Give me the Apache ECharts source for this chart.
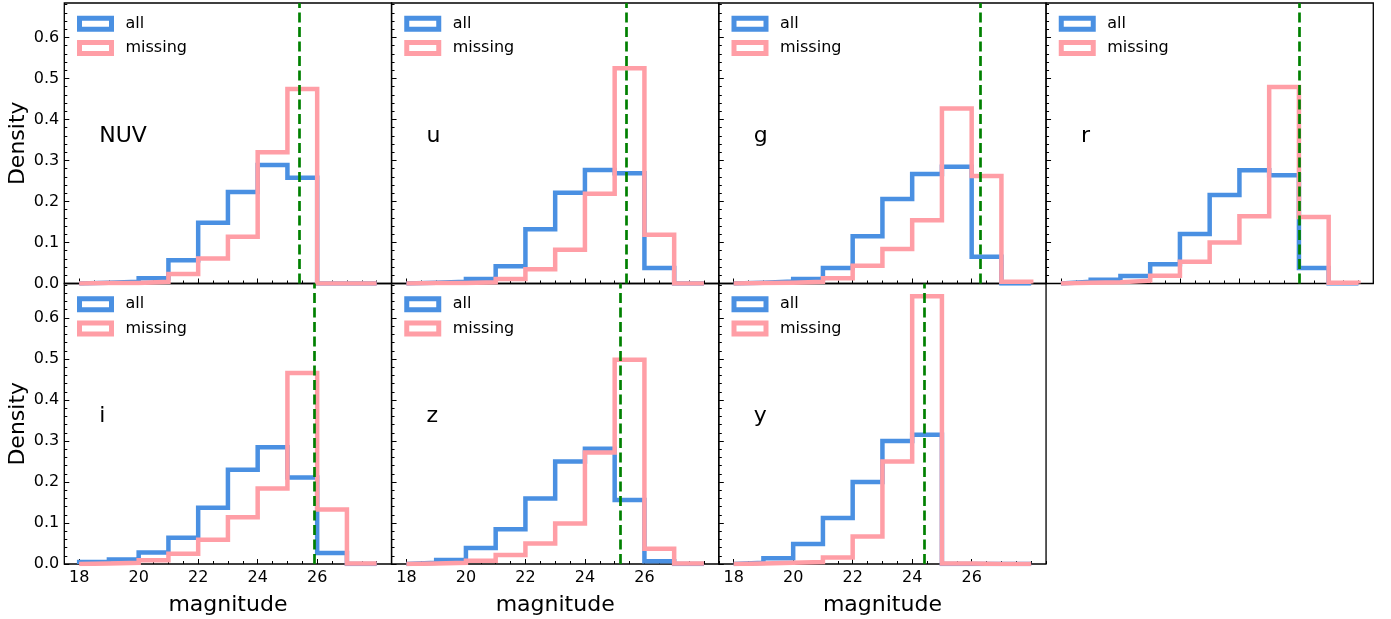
<!DOCTYPE html>
<html lang="en">
<head>
  <meta charset="UTF-8">
  <title>magnitude histograms</title>
  <script src="https://cdn.jsdelivr.net/npm/echarts@6/dist/echarts.min.js"></script>
  <style>
    body { margin: 0; background: #fff; }
  </style>
</head>
<body>
  <div id="main" style="width: 1391px; height: 619px;"></div>
  <script>
    // bands and magnitude bins (width 1 mag)
    var bands = ['NUV', 'u', 'g', 'r', 'i', 'z', 'y'];
    var binEdges = [18, 19, 20, 21, 22, 23, 24, 25, 26, 27, 28];

    // density per bin, "all" sources and "missing" sources
    var allNUV = [0.002, 0.004, 0.013, 0.057, 0.148, 0.223, 0.289, 0.258, 0, 0];
    var missNUV = [0.001, 0.001, 0.004, 0.023, 0.061, 0.114, 0.320, 0.474, 0, 0];
    var allU = [0.002, 0.004, 0.011, 0.042, 0.132, 0.221, 0.277, 0.269, 0.038, 0];
    var missU = [0.001, 0.001, 0.003, 0.011, 0.035, 0.082, 0.219, 0.525, 0.119, 0];
    var allG = [0.002, 0.005, 0.011, 0.038, 0.115, 0.206, 0.267, 0.285, 0.065, 0];
    var missG = [0.001, 0.002, 0.004, 0.013, 0.043, 0.084, 0.154, 0.427, 0.262, 0.004];
    var allR = [0.004, 0.009, 0.018, 0.047, 0.121, 0.216, 0.276, 0.264, 0.038, 0];
    var missR = [0.002, 0.003, 0.007, 0.019, 0.053, 0.100, 0.164, 0.479, 0.162, 0.002];
    var allI = [0.005, 0.011, 0.028, 0.064, 0.137, 0.230, 0.285, 0.211, 0.027, 0];
    var missI = [0.001, 0.003, 0.009, 0.025, 0.059, 0.114, 0.184, 0.466, 0.133, 0.001];
    var allZ = [0.003, 0.010, 0.039, 0.085, 0.160, 0.250, 0.281, 0.156, 0.007, 0];
    var missZ = [0.001, 0.003, 0.008, 0.022, 0.050, 0.099, 0.272, 0.498, 0.037, 0.001];
    var allY = [0.003, 0.014, 0.049, 0.112, 0.200, 0.300, 0.315, 0, 0, 0];
    var missY = [0.001, 0.003, 0.005, 0.016, 0.067, 0.250, 0.653, 0.001, 0, 0];

    // green dashed line: magnitude limit per band
    var limits = [25.4, 25.4, 26.3, 26.0, 25.9, 25.2, 24.4];

    var allData = [allNUV, allU, allG, allR, allI, allZ, allY];
    var missData = [missNUV, missU, missG, missR, missI, missZ, missY];

    // ticks
    var xMajor = [18, 20, 22, 24, 26];
    var yMajor = [0, 0.1, 0.2, 0.3, 0.4, 0.5, 0.6];
    var xMinor = [];
    for (var v = 17.5; v <= 28.5; v += 0.5) xMinor.push(v);
    var yMinor = [];
    for (var j = 0; j <= 34; j++) yMinor.push(+(j * 0.02).toFixed(2));

    var blue = '#4a90e2';
    var pink = '#ff9ea6';
    var font = 'DejaVu Sans';

    // histtype='step' outline
    function stepPoints(h) {
      var pts = [[binEdges[0], 0]];
      h.forEach(function (val, k) {
        pts.push([binEdges[k], val], [binEdges[k + 1], val]);
      });
      pts.push([binEdges[binEdges.length - 1], 0]);
      return pts;
    }

    var panelW = 327.25, panelH = 280.5;
    var left0 = 64.3, top0 = 3;

    var grid = [], xAxis = [], yAxis = [], series = [], legend = [], graphic = [];

    bands.forEach(function (band, k) {
      var row = Math.floor(k / 4), col = k % 4;
      var gl = left0 + col * panelW, gt = top0 + row * panelH;
      var bottomRow = row === 1;
      var firstCol = col === 0;

      grid.push({
        left: gl, top: gt, width: panelW, height: panelH,
        show: true, borderColor: '#000', borderWidth: 1.3, backgroundColor: 'transparent'
      });

      var xBase = {
        type: 'value', gridIndex: k, min: 17.5, max: 28.5, position: 'bottom',
        axisLine: { show: false }, splitLine: { show: false }
      };
      xAxis.push(Object.assign({}, xBase, {
        axisTick: { inside: true, length: 3, customValues: xMinor, lineStyle: { color: '#000', width: 1 } },
        axisLabel: { show: false }
      }));
      xAxis.push(Object.assign({}, xBase, {
        axisTick: { inside: true, length: 5, customValues: xMajor, lineStyle: { color: '#000', width: 1 } },
        axisLabel: {
          show: bottomRow, customValues: xMajor, margin: 6,
          color: '#000', fontSize: 16, fontFamily: font
        },
        name: bottomRow ? 'magnitude' : '', nameLocation: 'middle', nameGap: 30,
        nameTextStyle: { color: '#000', fontSize: 22, fontFamily: font }
      }));

      var yBase = {
        type: 'value', gridIndex: k, min: 0, max: 0.684, position: 'left',
        axisLine: { show: false }, splitLine: { show: false }
      };
      yAxis.push(Object.assign({}, yBase, {
        axisTick: { inside: true, length: 3, customValues: yMinor, lineStyle: { color: '#000', width: 1 } },
        axisLabel: { show: false }
      }));
      yAxis.push(Object.assign({}, yBase, {
        axisTick: { inside: true, length: 5, customValues: yMajor, lineStyle: { color: '#000', width: 1 } },
        axisLabel: {
          show: firstCol, customValues: yMajor, margin: 5,
          color: '#000', fontSize: 16, fontFamily: font,
          formatter: function (val) { return val.toFixed(1); }
        },
        name: firstCol ? 'Density' : '', nameLocation: 'middle', nameGap: 35,
        nameTextStyle: { color: '#000', fontSize: 22, fontFamily: font }
      }));

      series.push({
        name: 'all', type: 'line', xAxisIndex: 2 * k, yAxisIndex: 2 * k,
        data: stepPoints(allData[k]), symbol: 'none', silent: true,
        lineStyle: { color: blue, width: 4.5, join: 'miter', cap: 'butt' },
        itemStyle: { color: blue }, z: 2
      });
      series.push({
        name: 'missing', type: 'line', xAxisIndex: 2 * k, yAxisIndex: 2 * k,
        data: stepPoints(missData[k]), symbol: 'none', silent: true,
        lineStyle: { color: pink, width: 4.5, join: 'miter', cap: 'butt' },
        itemStyle: { color: pink }, z: 3,
        markLine: {
          silent: true, symbol: ['none', 'none'], label: { show: false },
          lineStyle: { color: '#008000', width: 2.7, type: [10, 4.5] },
          emphasis: { disabled: true },
          data: [{ xAxis: limits[k] }]
        }
      });

      legend.push({
        left: gl + 12.7, top: gt + 12.7, orient: 'vertical', padding: 0,
        icon: 'rect', itemWidth: 32, itemHeight: 11, itemGap: 8.3,
        selectedMode: false,
        formatter: function (name) { return '{gap| }{txt|' + name + '}'; },
        textStyle: {
          color: '#000', fontSize: 16, fontFamily: font, lineHeight: 16,
          rich: {
            gap: { width: 9, fontSize: 16 },
            txt: { color: '#000', fontSize: 16, fontFamily: font, lineHeight: 16 }
          }
        },
        data: [
          { name: 'all', itemStyle: { color: '#fff', borderColor: blue, borderWidth: 5 } },
          { name: 'missing', itemStyle: { color: '#fff', borderColor: pink, borderWidth: 5 } }
        ]
      });

      graphic.push({
        type: 'text', x: gl + 35, y: gt + 133, silent: true,
        style: { text: band, fill: '#000', font: '22px "DejaVu Sans"', align: 'left', verticalAlign: 'middle' }
      });
    });

    var myChart = echarts.init(document.getElementById('main'));
    myChart.setOption({
      animation: false,
      grid: grid,
      xAxis: xAxis,
      yAxis: yAxis,
      legend: legend,
      graphic: graphic,
      series: series
    });
  </script>
</body>
</html>
